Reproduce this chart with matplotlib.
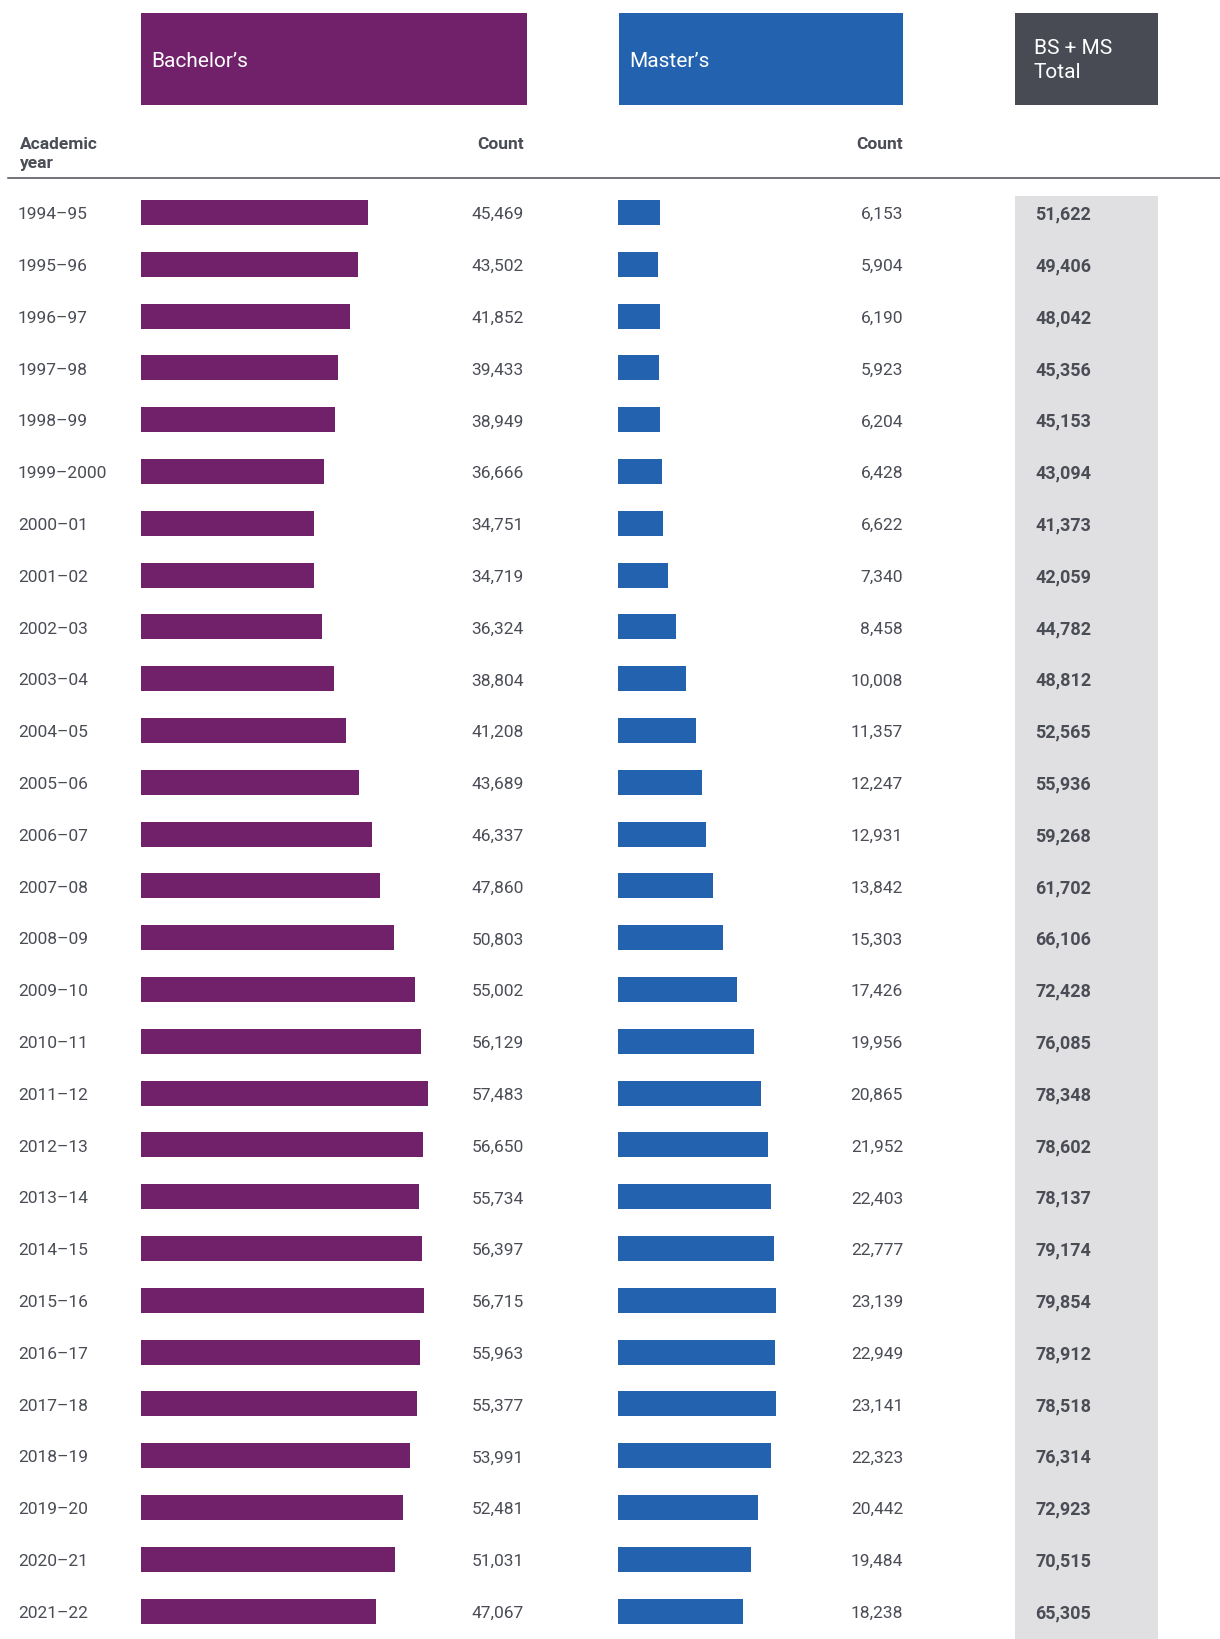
import matplotlib
matplotlib.use('Agg')
import matplotlib.pyplot as plt
from matplotlib.patches import Rectangle

plt.rcParams['font.family'] = ['Roboto', 'DejaVu Sans']

years = ['1994–95', '1995–96', '1996–97', '1997–98', '1998–99', '1999–2000',
         '2000–01', '2001–02', '2002–03', '2003–04', '2004–05', '2005–06',
         '2006–07', '2007–08', '2008–09', '2009–10', '2010–11', '2011–12',
         '2012–13', '2013–14', '2014–15', '2015–16', '2016–17', '2017–18',
         '2018–19', '2019–20', '2020–21', '2021–22']
bachelors = [45469, 43502, 41852, 39433, 38949, 36666, 34751, 34719, 36324, 38804,
             41208, 43689, 46337, 47860, 50803, 55002, 56129, 57483, 56650, 55734,
             56397, 56715, 55963, 55377, 53991, 52481, 51031, 47067]
masters = [6153, 5904, 6190, 5923, 6204, 6428, 6622, 7340, 8458, 10008,
           11357, 12247, 12931, 13842, 15303, 17426, 19956, 20865, 21952, 22403,
           22777, 23139, 22949, 23141, 22323, 20442, 19484, 18238]
totals = [51622, 49406, 48042, 45356, 45153, 43094, 41373, 42059, 44782, 48812,
          52565, 55936, 59268, 61702, 66106, 72428, 76085, 78348, 78602, 78137,
          79174, 79854, 78912, 78518, 76314, 72923, 70515, 65305]

PURPLE = '#70216A'
BLUE = '#2262AE'
DARK = '#484B53'
LIGHT = '#E0E0E2'
TEXT = '#4A4D55'

W, H = 1220, 1639
ROW0, STEP = 212.5, 51.8
DY = 2.2  # text sits a touch lower than the bar centre

def row_y(i):
    return ROW0 + i * STEP

fig = plt.figure(figsize=(W / 100, H / 100), dpi=100)
ax = fig.add_axes([0, 0, 1, 1])
ax.set_xlim(0, W)
ax.set_ylim(H, 0)
ax.axis('off')

# header boxes
ax.add_patch(Rectangle((141, 12.5), 386, 92, color=PURPLE, lw=0))
ax.add_patch(Rectangle((619, 12.5), 284, 92, color=BLUE, lw=0))
ax.add_patch(Rectangle((1015, 12.5), 143, 92, color=DARK, lw=0))
ax.add_patch(Rectangle((1015, 195.5), 143, H - 195.5, color=LIGHT, lw=0))

ax.text(151, 59 + DY, 'Bachelor’s', color='white', fontsize=15, va='center', ha='left')
ax.text(629, 59 + DY, 'Master’s', color='white', fontsize=15, va='center', ha='left')
ax.text(1034, 46.5 + DY, 'BS + MS', color='white', fontsize=15, va='center', ha='left')
ax.text(1034, 70.5 + DY, 'Total', color='white', fontsize=15, va='center', ha='left')

ax.text(20, 142 + DY, 'Academic', color=TEXT, fontsize=12.5, fontweight='bold', va='center')
ax.text(20, 161 + DY, 'year', color=TEXT, fontsize=12.5, fontweight='bold', va='center')
ax.text(524, 142 + DY, 'Count', color=TEXT, fontsize=12.5, fontweight='bold', va='center', ha='right')
ax.text(903, 142 + DY, 'Count', color=TEXT, fontsize=12.5, fontweight='bold', va='center', ha='right')
ax.plot([8, W], [177.7, 177.7], color=TEXT, lw=1.1)

for i, yr in enumerate(years):
    y = row_y(i) + DY
    ax.text(18, y, yr, color=TEXT, fontsize=12.5, va='center', ha='left')
    ax.text(524, y, f'{bachelors[i]:,}', color=TEXT, fontsize=12.5, va='center', ha='right')
    ax.text(903, y, f'{masters[i]:,}', color=TEXT, fontsize=12.5, va='center', ha='right')
    ax.text(1035, y, f'{totals[i]:,}', color=TEXT, fontsize=13, fontweight='bold',
            va='center', ha='left')

# bar axes share the row layout
ylim = ((H - ROW0) / STEP, -ROW0 / STEP)
rows = list(range(len(years)))

axb = fig.add_axes([141 / W, 0, 386 / W, 1])
axb.barh(rows, bachelors, height=0.48, color=PURPLE)
axb.set_xlim(0, 386 / 0.004985)
axb.set_ylim(*ylim)
axb.axis('off')

axm = fig.add_axes([618 / W, 0, 285 / W, 1])
axm.barh(rows, masters, height=0.48, color=BLUE)
axm.set_xlim(0, 285 / 0.006840)
axm.set_ylim(*ylim)
axm.axis('off')

fig.savefig('out.png', dpi=100)
